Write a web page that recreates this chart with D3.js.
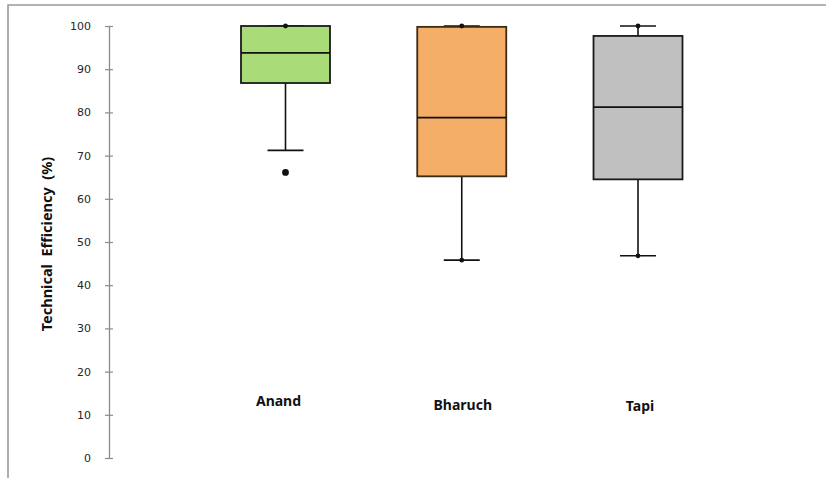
<!DOCTYPE html>
<html>
<head>
<meta charset="utf-8">
<script src="https://cdn.jsdelivr.net/npm/d3@7"></script>
<style>
  html, body { margin: 0; padding: 0; background: #fff; }
  svg { display: block; }
</style>
</head>
<body>
<svg id="chart" width="826" height="478"></svg>
<script>
// Technical efficiency (%) by district: five-number summaries
const categories = ["Anand", "Bharuch", "Tapi"];
const whiskerLow  = [71.2, 45.8, 46.8];
const quartile1   = [86.8, 65.2, 64.5];
const medians     = [93.8, 78.8, 81.2];
const quartile3   = [100,  99.8, 97.7];
const whiskerHigh = [100,  100,  100];
const outliers    = [[66.1], [], []];
const yTicks      = [0, 10, 20, 30, 40, 50, 60, 70, 80, 90, 100];
const yTitle      = "Technical  Efficiency  (%)";

const fills   = ["#a9db78", "#f4ae68", "#c0c0c0"];
const strokes = ["#1a1a1a", "#3b2a14", "#1a1a1a"];

const svg = d3.select("#chart");

// outer frame (top and left edges of the chart area)
svg.append("path")
  .attr("d", "M8,478 V5 H826")
  .attr("fill", "none")
  .attr("stroke", "#9a9a9a")
  .attr("stroke-width", 1.6);

const y = d3.scaleLinear().domain([0, 100]).range([458, 26]);
const x = d3.scalePoint().domain(categories).range([285.5, 638]);
const boxW = 89, capW = 36;

// y axis with ticks crossing the line
const axisX = 109;
const axis = d3.axisLeft(y).tickValues(yTicks).tickSizeInner(4).tickSizeOuter(0).tickPadding(14);
const gAxis = svg.append("g").attr("transform", `translate(${axisX},0)`).call(axis);
gAxis.select(".domain").attr("stroke", "#8c8c8c").attr("stroke-width", 1.3);
gAxis.selectAll(".tick line").attr("stroke", "#8c8c8c").attr("stroke-width", 1.2).attr("x2", 4).attr("x1", -4);
gAxis.selectAll(".tick text")
  .attr("fill", "#262626")
  .style("font-family", "'DejaVu Sans', sans-serif")
  .style("font-size", "11px");

svg.append("text")
  .attr("transform", `translate(52,${y(50) + 2}) rotate(-90)`)
  .attr("text-anchor", "middle")
  .attr("fill", "#111")
  .style("font-family", "'Noto Sans', sans-serif")
  .style("font-weight", "bold")
  .style("font-size", "14.5px")
  .style("white-space", "pre")
  .text(yTitle);

// boxes
const data = categories.map((c, i) => ({
  c, i,
  lo: whiskerLow[i], q1: quartile1[i], med: medians[i], q3: quartile3[i], hi: whiskerHigh[i],
  out: outliers[i]
}));

const g = svg.append("g").selectAll("g").data(data).join("g");

// whisker stems
g.append("line")
  .attr("x1", d => x(d.c)).attr("x2", d => x(d.c))
  .attr("y1", d => y(d.q1)).attr("y2", d => y(d.lo))
  .attr("stroke", "#111").attr("stroke-width", 1.6);
g.append("line")
  .attr("x1", d => x(d.c)).attr("x2", d => x(d.c))
  .attr("y1", d => y(d.q3)).attr("y2", d => y(d.hi))
  .attr("stroke", "#111").attr("stroke-width", 1.6);

// whisker caps
["lo", "hi"].forEach(k => {
  g.append("line")
    .attr("x1", d => x(d.c) - capW / 2).attr("x2", d => x(d.c) + capW / 2)
    .attr("y1", d => y(d[k])).attr("y2", d => y(d[k]))
    .attr("stroke", "#111").attr("stroke-width", 1.6);
});

// box body
g.append("rect")
  .attr("x", d => x(d.c) - boxW / 2)
  .attr("width", boxW)
  .attr("y", d => y(d.q3))
  .attr("height", d => y(d.q1) - y(d.q3))
  .attr("fill", d => fills[d.i])
  .attr("stroke", d => strokes[d.i])
  .attr("stroke-width", 1.8);

// median
g.append("line")
  .attr("x1", d => x(d.c) - boxW / 2).attr("x2", d => x(d.c) + boxW / 2)
  .attr("y1", d => y(d.med)).attr("y2", d => y(d.med))
  .attr("stroke", "#111").attr("stroke-width", 1.8);

// whisker end markers
g.append("circle")
  .attr("cx", d => x(d.c)).attr("cy", d => y(d.hi)).attr("r", 2.4).attr("fill", "#111");
g.filter(d => d.i > 0).append("circle")
  .attr("cx", d => x(d.c)).attr("cy", d => y(d.lo)).attr("r", 2.4).attr("fill", "#111");

// outliers
g.selectAll(".outlier")
  .data(d => d.out.map(v => ({ c: d.c, v })))
  .join("circle")
  .attr("class", "outlier")
  .attr("cx", d => x(d.c)).attr("cy", d => y(d.v)).attr("r", 3.4).attr("fill", "#111");

// category labels
const labelShift = [-7, 1, 2];
const labelDrop  = [0, 4, 5];
svg.append("g").selectAll("text").data(categories).join("text")
  .attr("x", (c, i) => x(c) + labelShift[i])
  .attr("y", (c, i) => 406 + labelDrop[i])
  .attr("text-anchor", "middle")
  .attr("fill", "#111")
  .style("font-family", "'Noto Sans', sans-serif")
  .style("font-weight", "bold")
  .style("font-size", "14px")
  .text(c => c);
</script>
</body>
</html>
